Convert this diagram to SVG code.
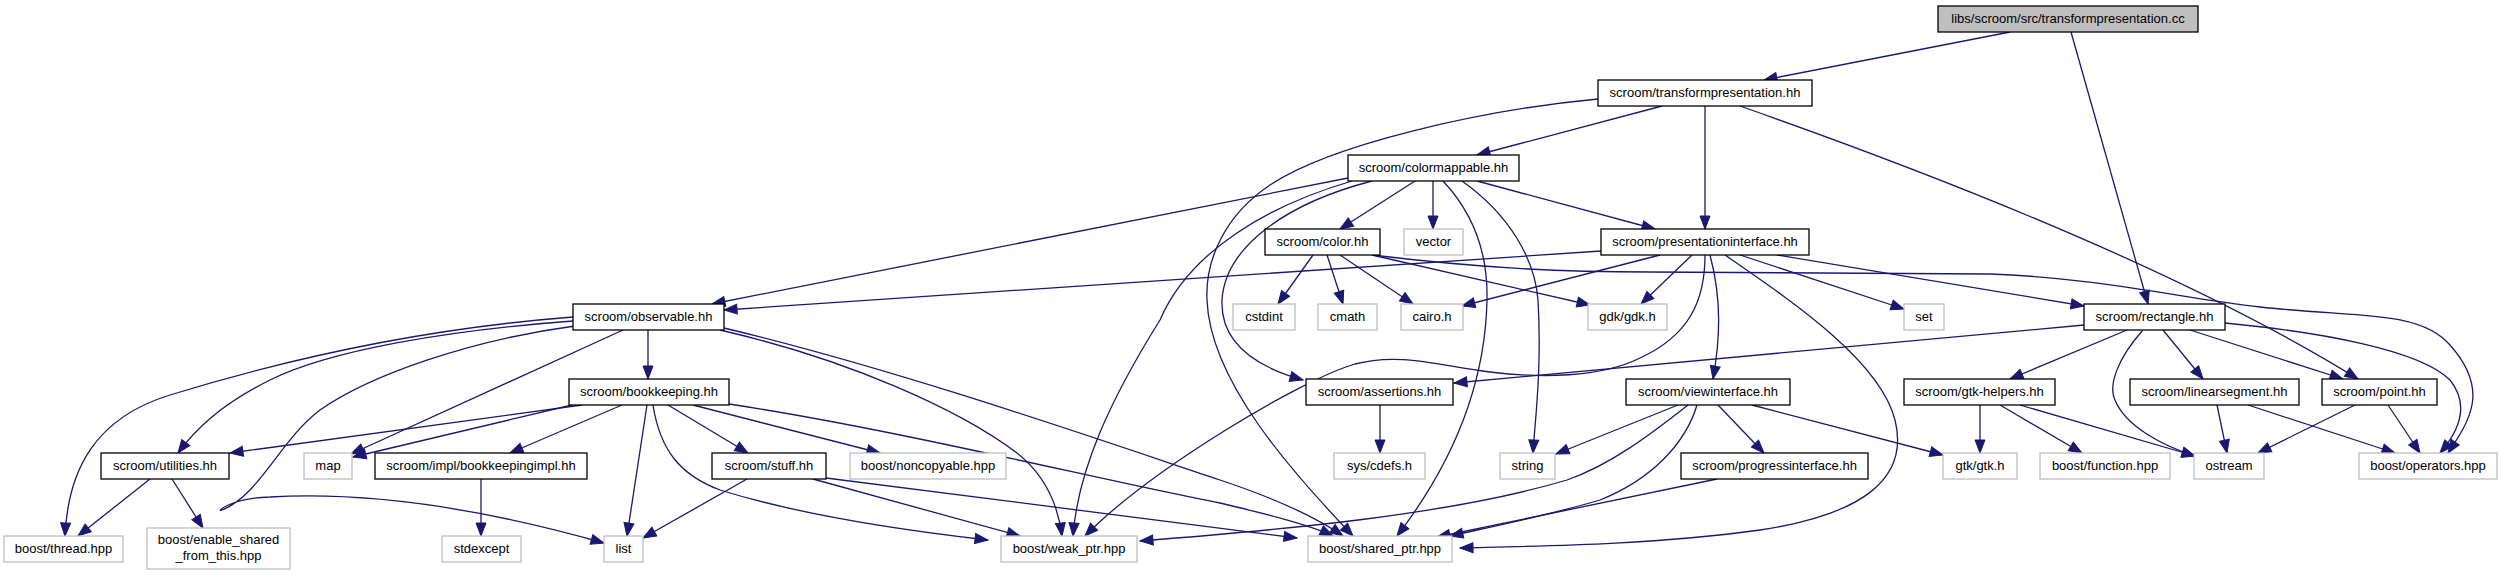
<svg xmlns="http://www.w3.org/2000/svg" width="2501" height="576" viewBox="0 0 2501 576">
<style>
.bg{fill:#ffffff}
.n rect{fill:#ffffff;stroke:#000000;stroke-width:1.3}
.s rect{fill:#ffffff;stroke:#bfbfbf;stroke-width:1.3}
.root rect{fill:#bfbfbf;stroke:#000000;stroke-width:1.3}
text{font-family:"Liberation Sans",Arial,Helvetica,sans-serif;font-size:13px;text-anchor:middle;fill:#000000}
#edges path{fill:none;stroke:#191970;stroke-width:1.3;marker-end:url(#ah)}
</style>
<defs>
<marker id="ah" markerWidth="13" markerHeight="10" refX="13" refY="5" orient="auto" markerUnits="userSpaceOnUse" overflow="visible">
<path d="M0,0 L13,5 L0,10 z" fill="#191970" stroke="#191970" stroke-width="1"/>
</marker>
</defs>
<rect class="bg" x="0" y="0" width="2501" height="576"/>
<g id="edges">
<path d="M2010,32 L1764,80"/>
<path d="M2071,32 L2148,304"/>
<path d="M1662,106 L1477,155"/>
<path d="M1705,106 L1705,229"/>
<path d="M1740,106 Q2150,250 2358,379"/>
<path d="M1598,99 C1480,110 1330,145 1270,185 C1225,215 1205,260 1207,300 C1210,380 1290,470 1353,536"/>
<path d="M1348,178 L712,304"/>
<path d="M1415,181 L1340,229"/>
<path d="M1433,181 L1433,229"/>
<path d="M1477,181 L1655,229"/>
<path d="M1372,181 C1280,205 1225,250 1222,300 C1220,345 1260,368 1303,380"/>
<path d="M1352,181 C1270,205 1190,250 1160,320 C1110,400 1078,470 1073,536"/>
<path d="M1443,181 C1475,215 1488,255 1487,300 C1485,400 1440,480 1397,536"/>
<path d="M1462,181 C1510,215 1535,260 1538,300 C1542,370 1535,420 1533,453"/>
<path d="M1313,255 L1278,304"/>
<path d="M1327,255 L1343,304"/>
<path d="M1340,255 L1413,304"/>
<path d="M1372,255 L1590,305"/>
<path d="M1372,255 C1480,268 1560,272 1650,272 L1990,274 C2100,278 2180,298 2260,307 C2360,318 2420,310 2450,345 C2490,390 2470,420 2448,453"/>
<path d="M1601,251 L724,310"/>
<path d="M1660,255 L1462,306"/>
<path d="M1692,255 L1641,304"/>
<path d="M1705,255 C1705,300 1690,335 1640,358 C1600,378 1540,378 1490,372 C1440,366 1400,352 1355,364 C1300,380 1150,470 1085,536"/>
<path d="M1710,255 C1722,300 1720,340 1713,379"/>
<path d="M1725,255 C1790,300 1880,360 1895,420 C1910,480 1860,515 1760,530 C1650,545 1540,546 1460,548"/>
<path d="M1740,255 L1904,309"/>
<path d="M1777,255 L2084,306"/>
<path d="M2084,325 L1454,383"/>
<path d="M1380,405 L1380,453"/>
<path d="M2127,330 L2010,379"/>
<path d="M2143,330 C2118,358 2108,385 2115,400 C2125,425 2160,445 2195,456"/>
<path d="M2163,330 L2203,379"/>
<path d="M2190,330 L2343,379"/>
<path d="M2225,323 C2320,332 2420,350 2450,380 C2470,405 2460,430 2440,453"/>
<path d="M1980,405 L1980,453"/>
<path d="M2000,405 L2082,453"/>
<path d="M2020,405 L2195,456"/>
<path d="M2217,405 L2227,453"/>
<path d="M2248,405 L2395,453"/>
<path d="M2355,405 L2258,453"/>
<path d="M2388,405 L2420,453"/>
<path d="M1718,405 L1764,453"/>
<path d="M1752,405 L1943,455"/>
<path d="M1678,405 L1556,454"/>
<path d="M1688,405 C1650,435 1610,465 1567,480 C1450,515 1280,530 1140,541"/>
<path d="M1697,405 C1685,445 1650,480 1600,500 C1550,515 1490,527 1450,536"/>
<path d="M1717,479 L1437,537"/>
<path d="M648,330 L648,379"/>
<path d="M573,321 C450,330 330,350 270,380 C220,405 195,430 178,453"/>
<path d="M573,317 C430,328 300,355 170,395 C95,418 68,470 65,536"/>
<path d="M623,330 L351,454"/>
<path d="M575,326 C470,340 370,375 320,410 C280,440 260,495 222,510 C215,513 230,498 270,497 C360,492 470,505 604,543"/>
<path d="M720,330 C850,360 960,410 1017,453 C1045,475 1058,505 1062,536"/>
<path d="M724,328 C900,370 1100,440 1220,480 C1280,500 1320,520 1343,536"/>
<path d="M582,405 L230,453"/>
<path d="M572,405 L353,457"/>
<path d="M622,405 L510,453"/>
<path d="M647,405 L627,536"/>
<path d="M668,405 L748,453"/>
<path d="M653,405 C660,450 680,475 720,490 C800,515 900,530 988,540"/>
<path d="M693,405 L880,453"/>
<path d="M729,404 C900,430 1100,480 1220,503 C1270,515 1310,525 1333,536"/>
<path d="M481,479 L481,536"/>
<path d="M747,479 L643,538"/>
<path d="M813,479 L1020,536"/>
<path d="M826,478 L1297,538"/>
<path d="M150,479 L78,536"/>
<path d="M172,479 L203,528"/>
</g>
<g id="n_cc" class="root"><rect x="1938" y="6" width="260" height="26"/><text x="2068" y="23">libs/scroom/src/transformpresentation.cc</text></g>
<g id="n_tph" class="n"><rect x="1598" y="80" width="214" height="26"/><text x="1705" y="97">scroom/transformpresentation.hh</text></g>
<g id="n_cm" class="n"><rect x="1348" y="155" width="171" height="26"/><text x="1433.5" y="172">scroom/colormappable.hh</text></g>
<g id="n_color" class="n"><rect x="1265" y="229" width="115" height="26"/><text x="1322.5" y="246">scroom/color.hh</text></g>
<g id="n_vector" class="s"><rect x="1404" y="229" width="59" height="26"/><text x="1433.5" y="246">vector</text></g>
<g id="n_pi" class="n"><rect x="1601" y="229" width="208" height="26"/><text x="1705" y="246">scroom/presentationinterface.hh</text></g>
<g id="n_obs" class="n"><rect x="573" y="304" width="151" height="26"/><text x="648.5" y="321">scroom/observable.hh</text></g>
<g id="n_cstdint" class="s"><rect x="1233" y="304" width="62" height="26"/><text x="1264" y="321">cstdint</text></g>
<g id="n_cmath" class="s"><rect x="1318" y="304" width="59" height="26"/><text x="1347.5" y="321">cmath</text></g>
<g id="n_cairo" class="s"><rect x="1401" y="304" width="62" height="26"/><text x="1432" y="321">cairo.h</text></g>
<g id="n_gdk" class="s"><rect x="1588" y="304" width="79" height="26"/><text x="1627.5" y="321">gdk/gdk.h</text></g>
<g id="n_set" class="s"><rect x="1904" y="304" width="40" height="26"/><text x="1924" y="321">set</text></g>
<g id="n_rect" class="n"><rect x="2084" y="304" width="141" height="26"/><text x="2154.5" y="321">scroom/rectangle.hh</text></g>
<g id="n_bk" class="n"><rect x="569" y="379" width="160" height="26"/><text x="649" y="396">scroom/bookkeeping.hh</text></g>
<g id="n_assert" class="n"><rect x="1306" y="379" width="147" height="26"/><text x="1379.5" y="396">scroom/assertions.hh</text></g>
<g id="n_view" class="n"><rect x="1626" y="379" width="164" height="26"/><text x="1708" y="396">scroom/viewinterface.hh</text></g>
<g id="n_gtkh" class="n"><rect x="1904" y="379" width="151" height="26"/><text x="1979.5" y="396">scroom/gtk-helpers.hh</text></g>
<g id="n_lin" class="n"><rect x="2130" y="379" width="169" height="26"/><text x="2214.5" y="396">scroom/linearsegment.hh</text></g>
<g id="n_point" class="n"><rect x="2322" y="379" width="115" height="26"/><text x="2379.5" y="396">scroom/point.hh</text></g>
<g id="n_util" class="n"><rect x="101" y="453" width="128" height="26"/><text x="165" y="470">scroom/utilities.hh</text></g>
<g id="n_map" class="s"><rect x="304" y="453" width="48" height="26"/><text x="328" y="470">map</text></g>
<g id="n_bki" class="n"><rect x="375" y="453" width="212" height="26"/><text x="481" y="470">scroom/impl/bookkeepingimpl.hh</text></g>
<g id="n_stuff" class="n"><rect x="712" y="453" width="114" height="26"/><text x="769" y="470">scroom/stuff.hh</text></g>
<g id="n_noncopy" class="s"><rect x="850" y="453" width="156" height="26"/><text x="928" y="470">boost/noncopyable.hpp</text></g>
<g id="n_cdefs" class="s"><rect x="1334" y="453" width="91" height="26"/><text x="1379.5" y="470">sys/cdefs.h</text></g>
<g id="n_string" class="s"><rect x="1500" y="453" width="55" height="26"/><text x="1527.5" y="470">string</text></g>
<g id="n_prog" class="n"><rect x="1681" y="453" width="187" height="26"/><text x="1774.5" y="470">scroom/progressinterface.hh</text></g>
<g id="n_gtk" class="s"><rect x="1943" y="453" width="74" height="26"/><text x="1980" y="470">gtk/gtk.h</text></g>
<g id="n_func" class="s"><rect x="2040" y="453" width="130" height="26"/><text x="2105" y="470">boost/function.hpp</text></g>
<g id="n_ostream" class="s"><rect x="2194" y="453" width="70" height="26"/><text x="2229" y="470">ostream</text></g>
<g id="n_ops" class="s"><rect x="2359" y="453" width="138" height="26"/><text x="2428" y="470">boost/operators.hpp</text></g>
<g id="n_thread" class="s"><rect x="4" y="536" width="119" height="26"/><text x="63.5" y="553">boost/thread.hpp</text></g>
<g id="n_esft" class="s"><rect x="147" y="528" width="143" height="41"/><text x="218.5" y="544">boost/enable_shared</text><text x="218.5" y="560">_from_this.hpp</text></g>
<g id="n_stdexcept" class="s"><rect x="442" y="536" width="79" height="26"/><text x="481.5" y="553">stdexcept</text></g>
<g id="n_list" class="s"><rect x="604" y="536" width="39" height="26"/><text x="623.5" y="553">list</text></g>
<g id="n_weak" class="s"><rect x="1001" y="536" width="136" height="26"/><text x="1069" y="553">boost/weak_ptr.hpp</text></g>
<g id="n_shared" class="s"><rect x="1308" y="536" width="144" height="26"/><text x="1380" y="553">boost/shared_ptr.hpp</text></g>
</svg>
